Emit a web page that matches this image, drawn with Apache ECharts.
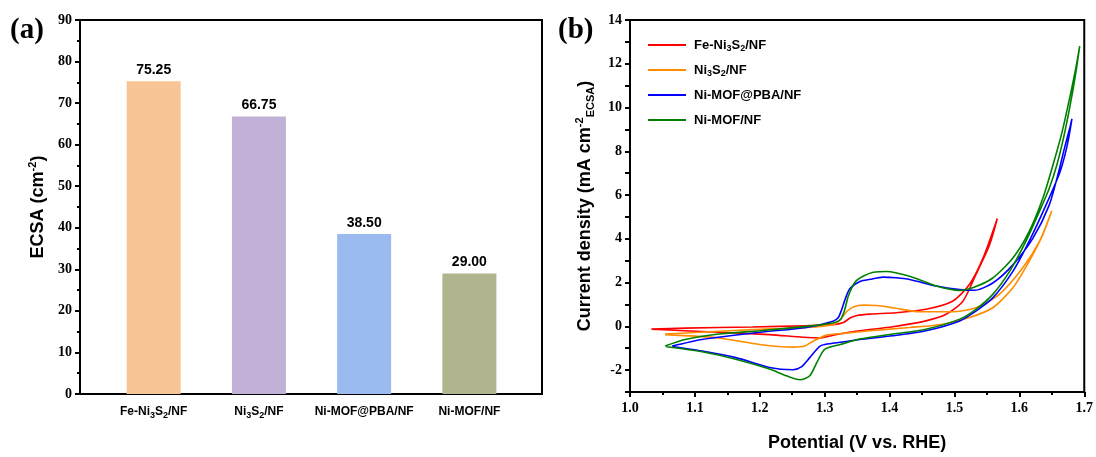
<!DOCTYPE html>
<html>
<head>
<meta charset="utf-8">
<script src="https://cdn.jsdelivr.net/npm/echarts@6/dist/echarts.min.js"></script>
<style>
  html, body { margin: 0; padding: 0; background: #fff; }
  #main { width: 1096px; height: 457px; }
</style>
</head>
<body>
<div id="main"></div>
<script>
// panel (a) data
var categories = ['Fe-Ni3S2/NF', 'Ni3S2/NF', 'Ni-MOF@PBA/NF', 'Ni-MOF/NF'];
var ecsa = [75.25, 66.75, 38.50, 29.00];
var barColors = ['#f8c596', '#c1b1d6', '#9bbaf0', '#b0b48f'];

// panel (b) data, CV loops: [potential, current density]
var seriesNames = ['Fe-Ni3S2/NF', 'Ni3S2/NF', 'Ni-MOF@PBA/NF', 'Ni-MOF/NF'];
var lineColors = ['#ff0000', '#ff8c00', '#0000ff', '#008000'];

var feNi3S2 = [
    [1.033, -0.12], [1.085, -0.08], [1.189, -0.03], [1.272, 0.03], [1.313, 0.08], [1.329, 0.18],
    [1.339, 0.38], [1.350, 0.50], [1.370, 0.56], [1.410, 0.62], [1.456, 0.78], [1.497, 1.15],
    [1.523, 1.91], [1.544, 3.12], [1.566, 4.93],
    [1.554, 3.72], [1.533, 2.36], [1.513, 1.15], [1.487, 0.55], [1.456, 0.25], [1.405, -0.02],
    [1.354, -0.20], [1.313, -0.40], [1.293, -0.53], [1.267, -0.50], [1.215, -0.38], [1.137, -0.27],
    [1.085, -0.20], [1.033, -0.13]
];
var ni3S2 = [
    [1.054, -0.35], [1.100, -0.28], [1.189, -0.15], [1.272, -0.05], [1.313, 0.08], [1.324, 0.30],
    [1.334, 0.68], [1.345, 0.90], [1.360, 0.97], [1.380, 0.95], [1.405, 0.85], [1.446, 0.67],
    [1.497, 0.67], [1.533, 0.85], [1.569, 1.46], [1.605, 2.67], [1.631, 3.88], [1.650, 5.28],
    [1.636, 4.18], [1.615, 2.97], [1.590, 1.76], [1.559, 0.85], [1.523, 0.40], [1.482, 0.10],
    [1.431, -0.05], [1.370, -0.20], [1.330, -0.32], [1.303, -0.40], [1.282, -0.68], [1.269, -0.90],
    [1.251, -0.95], [1.200, -0.83], [1.137, -0.53], [1.054, -0.38]
];
var niMofPba = [
    [1.065, -0.90], [1.111, -0.60], [1.200, -0.27], [1.272, -0.05], [1.313, 0.23], [1.321, 0.40],
    [1.326, 0.75], [1.332, 1.28], [1.339, 1.73], [1.355, 2.06], [1.370, 2.15], [1.390, 2.25],
    [1.410, 2.22], [1.431, 2.14], [1.472, 1.84], [1.508, 1.68], [1.531, 1.65], [1.559, 1.98],
    [1.590, 2.81], [1.621, 4.03], [1.646, 5.54], [1.660, 7.00], [1.670, 8.20], [1.678, 9.10],
    [1.681, 9.48],
    [1.676, 8.60], [1.670, 7.80], [1.662, 7.00], [1.641, 5.54], [1.615, 3.88], [1.590, 2.51],
    [1.559, 1.30], [1.533, 0.70], [1.508, 0.25], [1.456, -0.20], [1.405, -0.43], [1.354, -0.60],
    [1.330, -0.70], [1.310, -0.78], [1.293, -0.90], [1.277, -1.43], [1.264, -1.85], [1.251, -1.98],
    [1.215, -1.88], [1.163, -1.43], [1.111, -1.13], [1.065, -0.92]
];
var niMof = [
    [1.054, -0.90], [1.085, -0.60], [1.137, -0.35], [1.200, -0.20], [1.272, 0.00], [1.313, 0.15],
    [1.324, 0.30], [1.330, 0.68], [1.337, 1.43], [1.347, 2.03], [1.360, 2.30], [1.375, 2.47],
    [1.395, 2.51], [1.431, 2.29], [1.472, 1.84], [1.508, 1.64], [1.528, 1.76], [1.559, 2.21],
    [1.590, 3.12], [1.615, 4.33], [1.636, 5.84], [1.652, 7.40], [1.666, 8.90], [1.678, 10.50],
    [1.687, 11.80], [1.693, 12.80],
    [1.686, 11.40], [1.677, 9.90], [1.668, 8.60], [1.658, 7.40], [1.646, 6.30], [1.633, 5.39],
    [1.610, 3.88], [1.585, 2.51], [1.559, 1.46], [1.533, 0.78], [1.508, 0.33], [1.456, -0.13],
    [1.405, -0.35], [1.354, -0.58], [1.324, -0.83], [1.300, -1.05], [1.288, -1.65], [1.277, -2.26],
    [1.262, -2.44], [1.241, -2.26], [1.215, -1.95], [1.163, -1.50], [1.111, -1.16], [1.056, -0.93]
];
var cvData = [feNi3S2, ni3S2, niMofPba, niMof];

var xTicksB = [1.0, 1.1, 1.2, 1.3, 1.4, 1.5, 1.6, 1.7];
var yTicksB = [-2, 0, 2, 4, 6, 8, 10, 12, 14];

// turn "Ni3S2" into rich text with subscripts
function subName(s) {
    return s.replace(/([A-Za-z])(\d)/g, '$1{sub|$2}');
}

var serifTick = { fontFamily: 'Liberation Serif', fontWeight: 'bold', fontSize: 14, color: '#000' };
var subStyle = { fontSize: 9, fontWeight: 'bold', fontFamily: 'Liberation Sans', verticalAlign: 'bottom', lineHeight: 8, color: '#000' };

var myChart = echarts.init(document.getElementById('main'), null, { renderer: 'canvas' });

var series = [];
series.push({
    type: 'bar',
    xAxisIndex: 0,
    yAxisIndex: 0,
    barWidth: 54,
    data: ecsa.map(function (v, i) {
        return { value: [i + 1, v], itemStyle: { color: barColors[i] } };
    }),
    label: {
        show: true,
        position: 'top',
        distance: 4,
        fontFamily: 'Liberation Sans',
        fontWeight: 'bold',
        fontSize: 14,
        color: '#000',
        formatter: function (p) { return p.value[1].toFixed(2); }
    }
});
cvData.forEach(function (d, i) {
    series.push({
        name: seriesNames[i],
        type: 'line',
        xAxisIndex: 1,
        yAxisIndex: 1,
        data: d,
        symbol: 'none',
        smooth: 0.25,
        lineStyle: { color: lineColors[i], width: 1.6 },
        itemStyle: { color: lineColors[i] }
    });
});

option = {
    animation: false,
    backgroundColor: '#fff',
    grid: [
        { left: 80, top: 20, width: 462, height: 374, show: true, borderColor: '#000', borderWidth: 2 },
        { left: 630, top: 20, width: 455, height: 375, show: true, borderColor: '#000', borderWidth: 2 }
    ],
    legend: {
        left: 643,
        top: 32,
        orient: 'vertical',
        icon: 'rect',
        itemWidth: 38,
        itemHeight: 2,
        itemGap: 9,
        data: seriesNames,
        formatter: function (n) { return subName(n); },
        textStyle: {
            fontFamily: 'Liberation Sans', fontWeight: 'bold', fontSize: 13, color: '#000',
            lineHeight: 16,
            padding: [0, 0, 0, 3],
            rich: { sub: subStyle }
        }
    },
    xAxis: [
        {
            gridIndex: 0,
            type: 'value',
            min: 0.3,
            max: 4.69,
            splitLine: { show: false },
            axisLine: { onZero: false, lineStyle: { color: '#000', width: 2 } },
            axisTick: { show: false },
            axisLabel: {
                customValues: [1, 2, 3, 4],
                margin: 10,
                fontFamily: 'Liberation Sans', fontWeight: 'bold', fontSize: 12, color: '#000',
                lineHeight: 16,
                formatter: function (v) { return subName(categories[Math.round(v) - 1]); },
                rich: { sub: subStyle }
            }
        },
        {
            gridIndex: 1,
            type: 'value',
            min: 1.0,
            max: 1.7,
            interval: 0.1,
            name: 'Potential (V vs. RHE)',
            nameLocation: 'middle',
            nameGap: 42,
            nameTextStyle: { fontFamily: 'Liberation Sans', fontWeight: 'bold', fontSize: 18, color: '#000' },
            splitLine: { show: false },
            axisLine: { onZero: false, lineStyle: { color: '#000', width: 2 } },
            axisTick: { inside: false, length: 5, lineStyle: { width: 2 } },
            minorTick: { show: true, splitNumber: 2, length: 3, lineStyle: { color: '#000', width: 2 } },
            axisLabel: Object.assign({
                margin: 9,
                customValues: xTicksB,
                formatter: function (v) { return v.toFixed(1); }
            }, serifTick)
        }
    ],
    yAxis: [
        {
            gridIndex: 0,
            type: 'value',
            min: 0,
            max: 90,
            interval: 10,
            name: 'ECSA (cm{sup|-2})',
            nameLocation: 'middle',
            nameGap: 31,
            nameRotate: 90,
            nameTextStyle: {
                fontFamily: 'Liberation Sans', fontWeight: 'bold', fontSize: 18, color: '#000',
                lineHeight: 22,
                rich: { sup: { fontFamily: 'Liberation Sans', fontWeight: 'bold', fontSize: 11, verticalAlign: 'top', lineHeight: 11 } }
            },
            splitLine: { show: false },
            axisLine: { onZero: false, lineStyle: { color: '#000', width: 2 } },
            axisTick: { inside: false, length: 5, lineStyle: { width: 2 } },
            minorTick: { show: true, splitNumber: 2, length: 3, lineStyle: { color: '#000', width: 2 } },
            axisLabel: Object.assign({ margin: 8 }, serifTick)
        },
        {
            gridIndex: 1,
            type: 'value',
            min: -3,
            max: 14,
            interval: 1,
            name: 'Current density (mA cm{sup|-2}{sub|ECSA})',
            nameLocation: 'middle',
            nameGap: 34,
            nameRotate: 90,
            nameTextStyle: {
                fontFamily: 'Liberation Sans', fontWeight: 'bold', fontSize: 18, color: '#000',
                lineHeight: 22,
                rich: {
                    sup: { fontFamily: 'Liberation Sans', fontWeight: 'bold', fontSize: 11, verticalAlign: 'top', lineHeight: 11 },
                    sub: { fontFamily: 'Liberation Sans', fontWeight: 'bold', fontSize: 11, verticalAlign: 'bottom', lineHeight: 11 }
                }
            },
            splitLine: { show: false },
            axisLine: { onZero: false, lineStyle: { color: '#000', width: 2 } },
            axisTick: { inside: false, length: 5, lineStyle: { width: 2 } },
            axisLabel: Object.assign({ margin: 8, customValues: yTicksB }, serifTick)
        }
    ],
    graphic: [
        { type: 'text', left: 10, top: 16, style: { text: '(a)', font: 'bold 29px "Liberation Serif"', fill: '#000' } },
        { type: 'text', left: 558, top: 16, style: { text: '(b)', font: 'bold 29px "Liberation Serif"', fill: '#000' } }
    ],
    series: series
};
myChart.setOption(option);
</script>
</body>
</html>
